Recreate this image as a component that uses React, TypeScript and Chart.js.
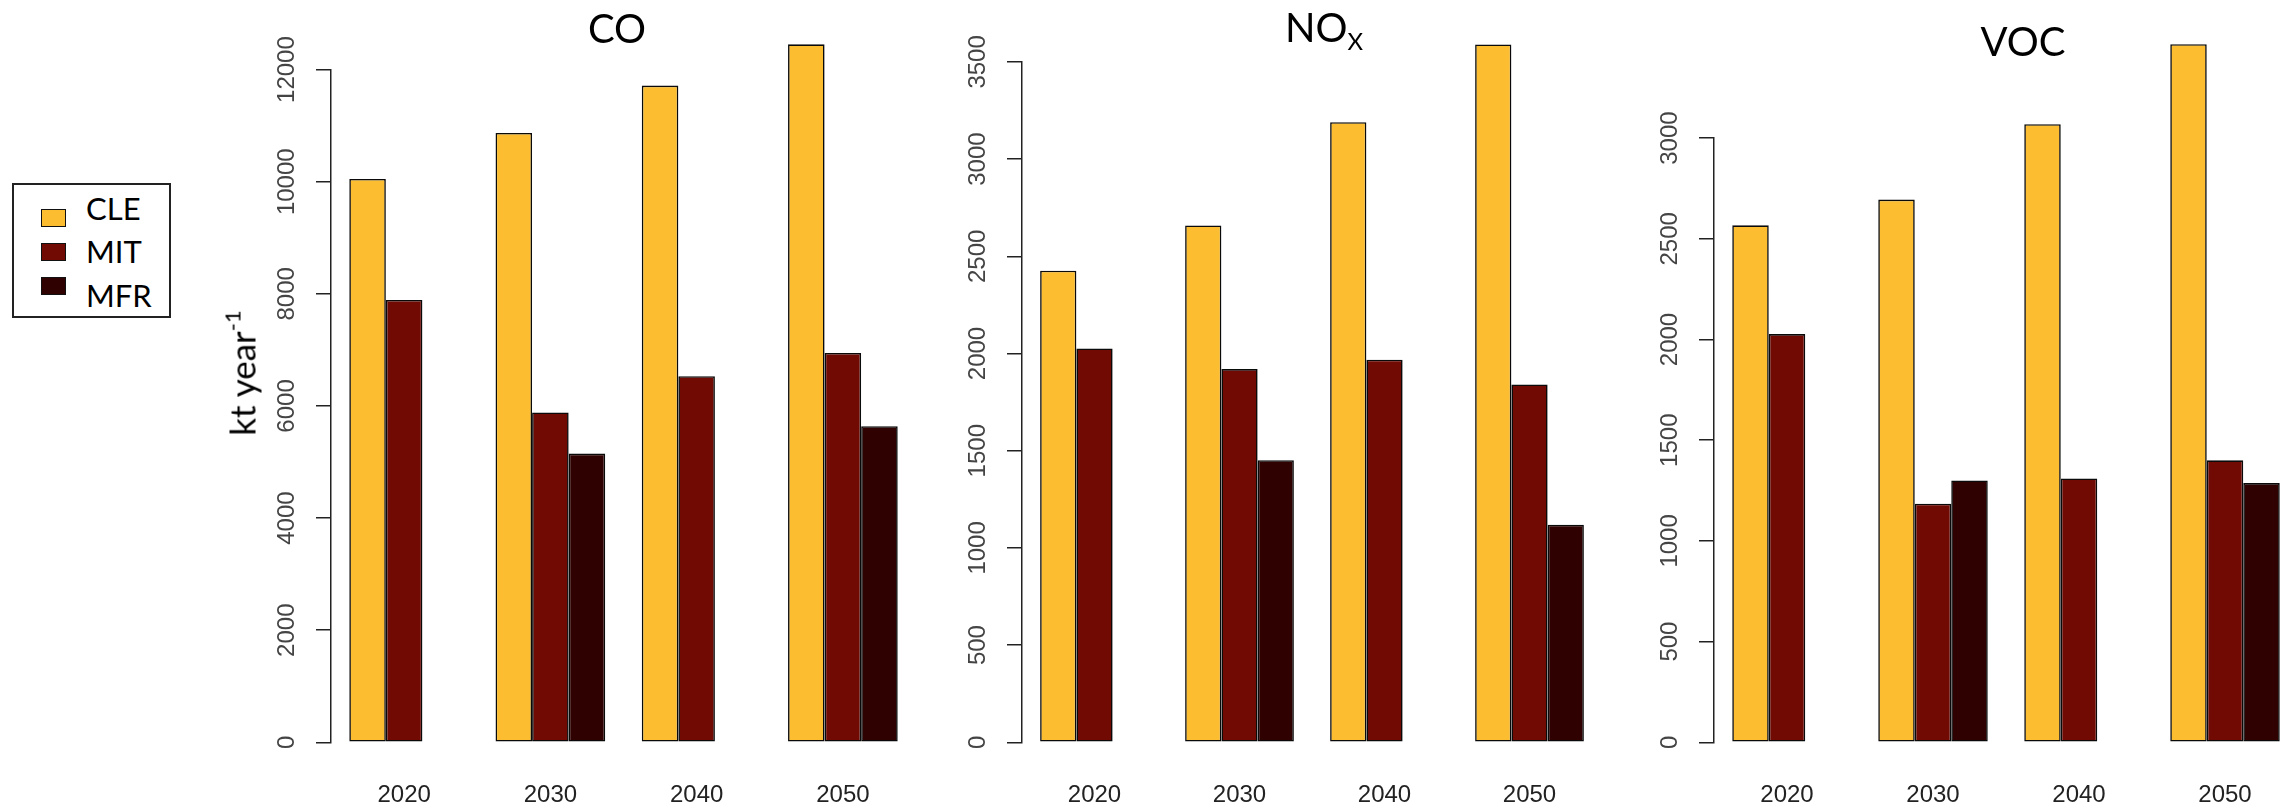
import React, { useEffect, useRef } from "react";
import { Chart, registerables } from "chart.js";

Chart.register(...registerables);

// ---------- data ----------
const years = ["2020", "2030", "2040", "2050"];
const seriesNames = ["CLE", "MIT", "MFR"];
const seriesColors = ["#FCBE30", "#720A04", "#2F0101"];

const coCLE = [10050, 10870, 11715, 12450];
const coMIT = [7890, 5885, 6530, 6945];
const coMFR = [null, 5150, null, 5640];

const noxCLE = [2426, 2659, 3190, 3590];
const noxMIT = [2026, 1920, 1968, 1841];
const noxMFR = [null, 1451, null, 1119];

const vocCLE = [2567, 2695, 3069, 3466];
const vocMIT = [2027, 1185, 1310, 1400];
const vocMFR = [null, 1300, null, 1287];

const coTickMax = 12000;
const coTickStep = 2000;
const noxTickMax = 3500;
const noxTickStep = 500;
const vocTickMax = 3000;
const vocTickStep = 500;

// ---------- layout ----------
const H = 808;
const ZERO_Y = 742.3;
const Y_W = 100;
const TICK_FONT = "'Liberation Sans', Arial, sans-serif";
const TEXT_FONT = "Lato, 'Open Sans', sans-serif";

type PanelProps = {
  axisX: number;
  plotW: number;
  topPx: number;
  max: number;
  step: number;
  labelPad: number;
  cle: (number | null)[];
  mit: (number | null)[];
  mfr: (number | null)[];
};

function Panel(p: PanelProps) {
  const ref = useRef<HTMLCanvasElement>(null);
  const width = Y_W + p.plotW;
  useEffect(() => {
    const series = [p.cle, p.mit, p.mfr];
    const chart = new Chart(ref.current as HTMLCanvasElement, {
      type: "bar",
      data: {
        labels: years,
        datasets: series.map((d, i) => ({
          label: seriesNames[i],
          data: d,
          backgroundColor: seriesColors[i],
          borderColor: "#0a0a0a",
          borderWidth: 1.6,
          borderSkipped: false,
          clip: false,
          categoryPercentage: 0.75,
          barPercentage: 1,
        })),
      },
      options: {
        animation: false,
        responsive: false,
        maintainAspectRatio: false,
        events: [],
        layout: { padding: { top: p.topPx, left: 0, right: 0, bottom: 0 } },
        plugins: {
          legend: { display: false },
          tooltip: { enabled: false },
          title: { display: false },
        },
        scales: {
          x: {
            type: "category",
            offset: true,
            grid: { display: false, drawTicks: false },
            border: { display: false },
            ticks: {
              color: "#222222",
              font: { family: TICK_FONT, size: 24 },
              padding: 39,
              minRotation: 0,
              maxRotation: 0,
              autoSkip: false,
            },
            afterFit: (s: any) => {
              s.height = H - ZERO_Y;
            },
          },
          y: {
            min: 0,
            max: p.max,
            ticks: {
              stepSize: p.step,
              color: "#444444",
              font: { family: TICK_FONT, size: 24 },
              minRotation: 90,
              maxRotation: 90,
              crossAlign: "center",
              padding: p.labelPad,
              callback: (v: any) => String(v),
            },
            grid: {
              display: true,
              drawOnChartArea: false,
              drawTicks: true,
              tickLength: 15,
              color: "#222222",
              lineWidth: 1.5,
            },
            border: { display: true, color: "#222222", width: 1.5 },
            afterFit: (s: any) => {
              s.width = Y_W;
            },
          },
        },
      } as any,
    });
    return () => chart.destroy();
  }, []);
  return (
    <canvas
      ref={ref}
      width={width}
      height={H}
      style={{ position: "absolute", left: p.axisX - Y_W, top: 0, width, height: H }}
    />
  );
}

// text positioned by its baseline (line-height 0 trick)
function BText(props: {
  x: number;
  y: number;
  size: number;
  center?: boolean;
  children: React.ReactNode;
}) {
  const k = 0.387;
  return (
    <div
      style={{
        position: "absolute",
        left: props.x,
        top: props.y - k * props.size,
        height: 0,
        lineHeight: 0,
        fontSize: props.size,
        fontFamily: TEXT_FONT,
        color: "#000",
        whiteSpace: "nowrap",
        transform: props.center ? "translateX(-50%)" : undefined,
      }}
    >
      {props.children}
    </div>
  );
}

function Legend() {
  const swatchTops = [209, 243, 277];
  const textBase = [220, 263, 307];
  return (
    <div>
      <div
        style={{
          position: "absolute",
          left: 12,
          top: 183,
          width: 159,
          height: 135,
          boxSizing: "border-box",
          border: "2px solid #222",
        }}
      />
      {seriesNames.map((n, i) => (
        <React.Fragment key={n}>
          <div
            style={{
              position: "absolute",
              left: 41,
              top: swatchTops[i],
              width: 25,
              height: 18,
              boxSizing: "border-box",
              border: "1.5px solid #111",
              background: seriesColors[i],
            }}
          />
          <BText x={86} y={textBase[i]} size={31}>
            {n}
          </BText>
        </React.Fragment>
      ))}
    </div>
  );
}

export default function App() {
  return (
    <div
      style={{
        position: "absolute",
        left: 0,
        top: 0,
        width: 2290,
        height: H,
        overflow: "hidden",
        background: "#fff",
      }}
    >
      <Panel axisX={331} plotW={585} topPx={69.6} max={coTickMax} step={coTickStep} labelPad={-4.4} cle={coCLE} mit={coMIT} mfr={coMFR} />
      <Panel axisX={1022} plotW={580} topPx={61.9} max={noxTickMax} step={noxTickStep} labelPad={2} cle={noxCLE} mit={noxMIT} mfr={noxMFR} />
      <Panel axisX={1714} plotW={584} topPx={138.1} max={vocTickMax} step={vocTickStep} labelPad={2} cle={vocCLE} mit={vocMIT} mfr={vocMFR} />

      <Legend />

      <div
        style={{
          position: "absolute",
          left: 242,
          top: 373,
          transform: "translate(-50%, -50%) rotate(-90deg)",
          fontFamily: TEXT_FONT,
          fontSize: 35,
          lineHeight: 1,
          whiteSpace: "nowrap",
          color: "#000",
        }}
      >
        kt year
        <span style={{ fontSize: 22, position: "relative", top: -15 }}>-1</span>
      </div>

      <BText x={617} y={43} size={40} center>
        CO
      </BText>
      <BText x={1285} y={42} size={40}>
        NO<span style={{ fontSize: 24, position: "relative", top: 8 }}>X</span>
      </BText>
      <BText x={2023} y={56} size={40} center>
        VOC
      </BText>
    </div>
  );
}
